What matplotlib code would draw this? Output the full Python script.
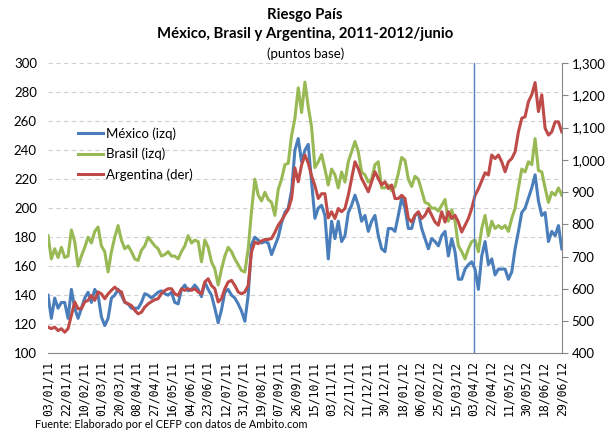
import matplotlib.pyplot as plt
import pandas as pd
from matplotlib.ticker import FuncFormatter

plt.rcParams["font.family"] = ["Lato", "DejaVu Sans"]

# Riesgo país (puntos base), lectura aproximada del gráfico
mexico = [
    140, 124, 138, 131, 135, 135, 124, 144, 131, 124, 131, 138, 142, 135, 144, 140, 125, 119, 124, 138,
    140, 144, 140, 135, 134, 131, 131, 131, 135, 141, 140, 138, 140, 142, 143, 141, 140, 142,
    135, 134, 144, 147, 143, 144, 147, 144, 139, 149, 144, 140, 131, 121, 130, 142, 144, 140, 138, 134,
    129, 122, 140, 175, 180, 178, 176, 177, 176, 168, 174, 180, 190, 197, 200, 212, 240, 248, 232,
    240, 244, 218, 193, 200, 202, 195, 165, 191, 179, 191, 177, 181, 197, 202, 209, 202, 191, 195, 184,
    191, 195, 181, 172, 170, 186, 186, 184, 195, 207, 200, 186, 186, 195, 197, 186, 179, 172, 179,
    177, 174, 181, 184, 167, 179, 170, 151, 151, 158, 161, 163, 158, 144, 167, 177, 161, 165, 154, 158,
    158, 158, 151, 156, 172, 184, 197, 200, 207, 214, 223, 205, 195, 197, 177, 184, 181, 188, 172,
]
brasil = [
    181, 165, 172, 166, 173, 166, 167, 185, 177, 160, 167, 173, 180, 176, 184, 187, 174, 170, 156, 170,
    180, 188, 178, 172, 174, 170, 165, 164, 171, 174, 180, 177, 174, 172, 167, 168, 170, 167,
    167, 165, 170, 174, 181, 176, 178, 177, 163, 178, 173, 163, 158, 147, 158, 167, 173, 170, 165, 161,
    157, 156, 172, 198, 220, 209, 205, 211, 206, 204, 195, 213, 220, 230, 231, 250, 262, 283, 266,
    287, 270, 256, 228, 232, 237, 227, 216, 227, 223, 214, 225, 218, 232, 239, 246, 239, 225, 223, 218,
    220, 230, 232, 214, 214, 216, 212, 215, 224, 235, 233, 220, 215, 222, 220, 212, 204, 203, 200,
    200, 198, 202, 206, 191, 199, 191, 174, 170, 165, 172, 177, 178, 170, 186, 195, 181, 191, 186, 188,
    186, 188, 184, 193, 200, 214, 227, 225, 232, 230, 248, 226, 225, 214, 204, 211, 209, 214, 209,
]
argentina = [
    481, 476, 481, 470, 476, 465, 476, 517, 559, 538, 538, 559, 564, 579, 564, 590, 584, 569, 584, 595,
    605, 595, 590, 559, 553, 548, 533, 522, 527, 543, 553, 560, 566, 569, 585, 594, 600, 600,
    584, 579, 600, 595, 600, 595, 600, 590, 584, 621, 631, 610, 600, 559, 569, 600, 621, 626, 610, 590,
    584, 590, 610, 715, 745, 740, 748, 753, 753, 756, 775, 797, 812, 830, 846, 880, 975, 932, 984,
    1015, 990, 950, 920, 880, 895, 895, 820, 839, 818, 849, 839, 849, 890, 942, 994, 973, 942, 922, 901,
    932, 963, 942, 922, 932, 911, 922, 880, 880, 890, 880, 818, 807, 828, 839, 818, 828, 849, 828,
    807, 797, 839, 807, 839, 818, 828, 807, 776, 797, 818, 849, 890, 910, 935, 960, 953, 1015, 1004, 1015,
    994, 963, 994, 1004, 1025, 1087, 1129, 1134, 1181, 1202, 1240, 1150, 1202, 1098, 1077, 1087, 1118, 1118, 1087,
]
etiquetas = [
    "03/01/11", "22/01/11", "10/02/11", "01/03/11", "20/03/11", "08/04/11", "27/04/11", "16/05/11",
    "04/06/11", "23/06/11", "12/07/11", "31/07/11", "19/08/11", "07/09/11", "26/09/11", "15/10/11",
    "03/11/11", "22/11/11", "11/12/11", "30/12/11", "18/01/12", "06/02/12", "25/02/12", "15/03/12",
    "03/04/12", "22/04/12", "11/05/12", "30/05/12", "18/06/12", "29/06/12",
]
fecha_marca = "2012-03-28"

fechas = pd.date_range("2011-01-03", "2012-06-29", periods=len(mexico))
# las etiquetas van equiespaciadas a lo largo del eje, como en el original
ticks = pd.date_range(fechas[0], fechas[-1], periods=len(etiquetas))

azul = "#4A7EBB"
verde = "#98B954"
rojo = "#BE4B48"

fig = plt.figure(figsize=(6.08, 4.36), dpi=100)
ax = fig.add_axes([0.079, 0.19, 0.845, 0.665])
ax2 = ax.twinx()

l1, = ax.plot(fechas, mexico, color=azul, lw=2.2, label="México (izq)")
l2, = ax.plot(fechas, brasil, color=verde, lw=2.2, label="Brasil (izq)")
l3, = ax2.plot(fechas, argentina, color=rojo, lw=2.2, label="Argentina (der)")
ax2.axvline(pd.Timestamp(fecha_marca), color="#4F81BD", lw=1)

ax.set_ylim(100, 300)
ax.set_yticks(range(100, 301, 20))
ax2.set_ylim(400, 1300)
ax2.set_yticks(range(400, 1301, 100))
ax2.yaxis.set_major_formatter(FuncFormatter(lambda v, p: f"{int(v):,}"))
ax.set_xlim(fechas[0], fechas[-1])

for y in range(120, 301, 20):
    ax.axhline(y, color="#d0d0d0", lw=0.8, ls=(0, (4, 3)), zorder=0)

ax.set_xticks(ticks)
ax.set_xticklabels(etiquetas, rotation=90, family="DejaVu Sans Mono", fontsize=8.3)
ax.tick_params(axis="x", length=0, pad=6)
ax.tick_params(axis="y", length=0, labelsize=9.5, pad=8)
ax2.tick_params(axis="y", length=4, color="#868686", labelsize=9.5, pad=3)

for s in ["top", "left"]:
    ax.spines[s].set_visible(False)
    ax2.spines[s].set_visible(False)
ax.spines["right"].set_visible(False)
ax.spines["bottom"].set_color("#868686")
ax2.spines["bottom"].set_visible(False)
ax2.spines["right"].set_color("#868686")

ax2.legend(handles=[l1, l2, l3], loc="upper left", bbox_to_anchor=(0.035, 0.82),
           frameon=False, fontsize=9.5, handlelength=1.9, labelspacing=0.6, handletextpad=0.2)

fig.text(0.502, 0.965, "Riesgo País", ha="center", va="center", fontsize=10.7, fontweight="bold")
fig.text(0.502, 0.922, "México, Brasil y Argentina, 2011-2012/junio", ha="center", va="center",
         fontsize=10.7, fontweight="bold")
fig.text(0.502, 0.877, "(puntos base)", ha="center", va="center", fontsize=9.5)
fig.text(0.058, 0.018, "Fuente: Elaborado por el CEFP con datos de Ambito.com", fontsize=7.8)

fig.savefig("out.png", dpi=100)
